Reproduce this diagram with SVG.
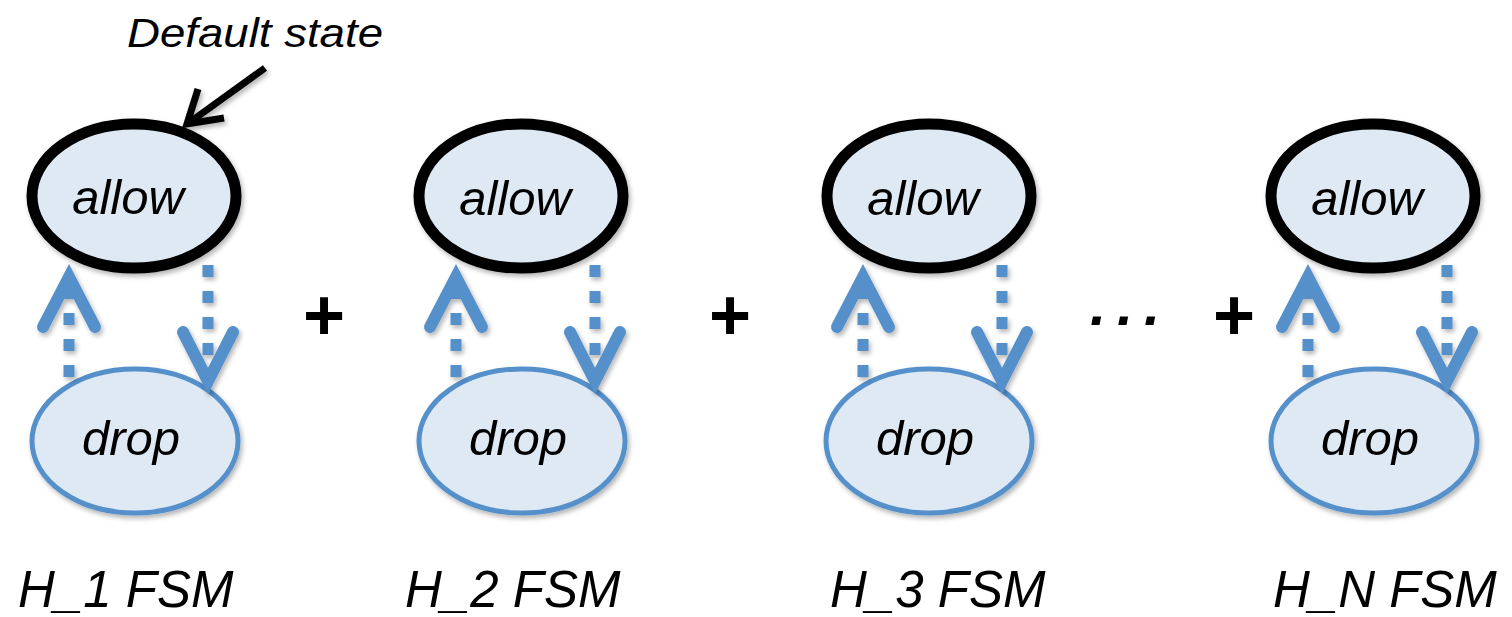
<svg xmlns="http://www.w3.org/2000/svg" width="1512" height="617" viewBox="0 0 1512 617">
  <defs>
    <filter id="soft" x="-20%" y="-20%" width="140%" height="140%">
      <feGaussianBlur in="SourceAlpha" stdDeviation="2.5"/>
      <feOffset dx="2" dy="3" result="b"/>
      <feComponentTransfer><feFuncA type="linear" slope="0.3"/></feComponentTransfer>
      <feMerge><feMergeNode/><feMergeNode in="SourceGraphic"/></feMerge>
    </filter>
  </defs>
  <style>
    .allow { fill: #dfe9f4; stroke: #000; stroke-width: 11; }
    .drop { fill: #dfe9f4; stroke: #5590cb; stroke-width: 5; }
    .state { font-family: "Liberation Sans", Arial, sans-serif; font-style: italic; font-size: 49px; fill: #000; text-anchor: middle; }
    .label { font-family: "Liberation Sans", Arial, sans-serif; font-style: italic; font-size: 51px; fill: #000; }
    .op { font-family: "Liberation Sans", Arial, sans-serif; font-weight: bold; font-size: 72px; fill: #000; text-anchor: middle; }
    .shaft { fill: none; stroke: #5590cb; stroke-width: 11; stroke-dasharray: 12 14; }
    .head { fill: none; stroke: #5590cb; stroke-width: 12; stroke-linecap: round; stroke-linejoin: miter; }
    .note { fill: none; stroke: #000; stroke-width: 7; stroke-linejoin: miter; }
  </style>

  <!-- state nodes: allow (default, bold outline) above drop -->
  <g id="h1-allow" filter="url(#soft)"><ellipse class="allow" cx="134" cy="196" rx="102" ry="72"/><text class="state" x="128" y="214">allow</text></g>
  <g id="h1-drop" filter="url(#soft)"><ellipse class="drop" cx="135" cy="441" rx="103" ry="72"/><text class="state" x="131" y="455">drop</text></g>

  <g id="h2-allow" filter="url(#soft)"><ellipse class="allow" cx="521" cy="196" rx="102" ry="72"/><text class="state" x="515" y="215">allow</text></g>
  <g id="h2-drop" filter="url(#soft)"><ellipse class="drop" cx="522" cy="441" rx="103" ry="72"/><text class="state" x="518" y="455">drop</text></g>

  <g id="h3-allow" filter="url(#soft)"><ellipse class="allow" cx="929" cy="196" rx="102" ry="72"/><text class="state" x="923" y="215">allow</text></g>
  <g id="h3-drop" filter="url(#soft)"><ellipse class="drop" cx="929" cy="441" rx="103" ry="72"/><text class="state" x="925" y="455">drop</text></g>

  <g id="hn-allow" filter="url(#soft)"><ellipse class="allow" cx="1373" cy="196" rx="102" ry="72"/><text class="state" x="1367" y="215">allow</text></g>
  <g id="hn-drop" filter="url(#soft)"><ellipse class="drop" cx="1374" cy="441" rx="103" ry="72"/><text class="state" x="1370" y="455">drop</text></g>

  <!-- transitions between states -->
  <g id="connectors" filter="url(#soft)">
    <g id="h1-edges">
      <line class="shaft" x1="69" y1="377" x2="69" y2="290"/>
      <polyline class="head" points="43,327 69,277 95,327"/>
      <line class="shaft" x1="208" y1="265" x2="208" y2="375"/>
      <polyline class="head" points="183,332 208,381 233,332"/>
    </g>
    <g id="h2-edges" transform="translate(387,0)">
      <line class="shaft" x1="69" y1="377" x2="69" y2="290"/>
      <polyline class="head" points="43,327 69,277 95,327"/>
      <line class="shaft" x1="208" y1="265" x2="208" y2="375"/>
      <polyline class="head" points="183,332 208,381 233,332"/>
    </g>
    <g id="h3-edges" transform="translate(794,0)">
      <line class="shaft" x1="69" y1="377" x2="69" y2="290"/>
      <polyline class="head" points="43,327 69,277 95,327"/>
      <line class="shaft" x1="208" y1="265" x2="208" y2="375"/>
      <polyline class="head" points="183,332 208,381 233,332"/>
    </g>
    <g id="hn-edges" transform="translate(1239,0)">
      <line class="shaft" x1="69" y1="377" x2="69" y2="290"/>
      <polyline class="head" points="43,327 69,277 95,327"/>
      <line class="shaft" x1="208" y1="265" x2="208" y2="375"/>
      <polyline class="head" points="183,332 208,381 233,332"/>
    </g>
  </g>

  <!-- annotation for the default state -->
  <g id="default-note">
    <text class="label" x="127" y="47" textLength="256" lengthAdjust="spacingAndGlyphs" style="font-size:41px">Default state</text>
    <g filter="url(#soft)">
      <line class="note" x1="265" y1="68" x2="190" y2="122"/>
      <polyline class="note" points="198,89 187,124 224,118"/>
    </g>
  </g>

  <!-- composition operators -->
  <g id="operators">
    <text class="op" x="324" y="340">+</text>
    <text class="op" x="730" y="340">+</text>
    <text class="op" x="1234" y="340">+</text>
    <text class="label" x="1090 1117 1144" y="325" style="font-weight:bold;font-size:58px">...</text>
  </g>

  <!-- machine labels -->
  <g id="labels">
    <text class="label" x="18" y="607">H_1 FSM</text>
    <text class="label" x="405" y="607">H_2 FSM</text>
    <text class="label" x="830" y="607">H_3 FSM</text>
    <text class="label" x="1273" y="607">H_N FSM</text>
  </g>
</svg>
